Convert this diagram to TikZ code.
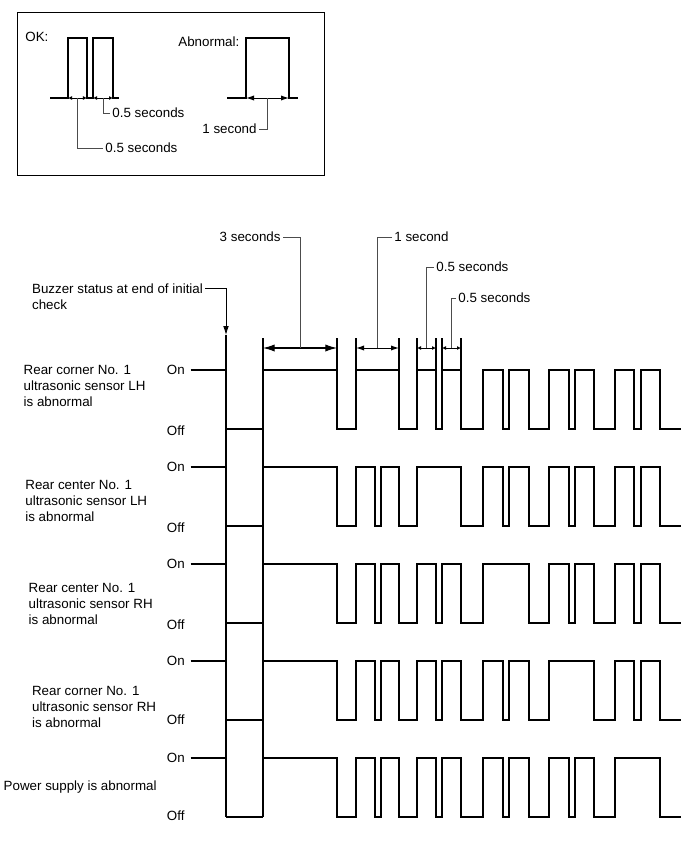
\documentclass[tikz,border=0pt]{standalone}
\usepackage{fontspec}
\setmainfont{Liberation Sans}
\usetikzlibrary{arrows.meta}
\tikzset{
    wave/.style={line width=0.8pt},
    leader/.style={line width=0.6pt,black!70},
    dimbig/.style={{Latex[length=2.9mm,width=1.8mm]}-{Latex[length=2.9mm,width=1.8mm]},line width=0.8pt},
    dimmid/.style={{Latex[length=2mm,width=1.3mm]}-{Latex[length=2mm,width=1.3mm]},line width=0.7pt},
    dimsmall/.style={{Latex[length=1mm,width=1mm]}-{Latex[length=1mm,width=1mm]},line width=0.6pt},
    txt/.style={font=\fontsize{9.5}{11.4}\selectfont,inner sep=1.5pt,align=left},
    levellbl/.style={txt,inner sep=4pt,anchor=west}
}

\begin{document}
\begin{tikzpicture}[x=0.025cm,y=-0.025cm]
    \useasboundingbox (0,0) rectangle (690,855);
    % legend box
    \draw[line width=0.6pt] (17,12) rectangle (324,175);
    \node[txt,anchor=west] (oklbl) at (23,37) {OK:};
    \node[txt,anchor=west] (ablbl) at (176,42) {Abnormal:};
    \draw[wave] (50,98) -| (68,38) -| (87,98) -| (93,38) -| (113,98) -- (119,98);
    \draw[dimsmall] (68,98) -- coordinate (okm1) (87,98);
    \draw[dimsmall] (93,98) -- coordinate (okm2) (113,98);
    \node[txt,anchor=west] (okhalfa) at (103,148) {0.5 seconds};
    \node[txt,anchor=west] (okhalfb) at (110,113) {0.5 seconds};
    \draw[leader] (okhalfa.west) -| (okm1);
    \draw[leader] (okhalfb.west) -| (okm2);
    \draw[wave] (227,98) -| (246,38) -| (289,98) -- (298,98);
    \draw[dimmid] (246,98) -- coordinate (abm) (289,98);
    \node[txt,anchor=east] (absec) at (259,129) {1 second};
    \draw[leader] (absec.east) -| (abm);

    % initial check
    \node[txt,anchor=north west] (buzz) at (29.7,281) {Buzzer status at end of initial\\check};
    \coordinate (chk) at (226,335);
    \coordinate (chkend) at (226,817);
    \coordinate (rel) at (263,338);
    \coordinate (relend) at (263,817);
    \draw[line width=0.6pt,-{Latex[length=2.2mm,width=1.4mm]}] ([yshift=-0.18cm]buzz.north east) -| (chk);
    \draw[wave] (chk) -- (chkend);
    \draw[wave] (rel) -- (relend);

    % timing marks
    \draw[wave] (337,338) -- (337,370);
    \draw[wave] (356,338) -- (356,370);
    \draw[wave] (399,338) -- (399,370);
    \draw[wave] (417,338) -- (417,370);
    \draw[wave] (436,338) -- (436,370);
    \draw[wave] (442,338) -- (442,370);
    \draw[wave] (461,338) -- (461,370);
    \draw[dimbig] (263,348) -- coordinate (m3s) (337,348);
    \draw[dimmid] (356,348) -- coordinate (m1s) (399,348);
    \draw[dimsmall] (417,348) -- coordinate (mh1) (436,348);
    \draw[dimsmall] (442,348) -- coordinate (mh2) (461,348);
    \node[txt,anchor=east] (sec3) at (283,237) {3 seconds};
    \node[txt,anchor=west] (sec1) at (392,237) {1 second};
    \node[txt,anchor=west] (half1) at (434,267) {0.5 seconds};
    \node[txt,anchor=west] (half2) at (456,298) {0.5 seconds};
    \draw[leader] (sec3.east) -| (m3s);
    \draw[leader] (sec1.west) -| (m1s);
    \draw[leader] (half1.west) -| (mh1);
    \draw[leader] (half2.west) -| (mh2);

    % rows
    \node[txt,anchor=west] (rowa) at (21.3,386) {Rear corner No. 1\\ultrasonic sensor LH\\is abnormal};
    \node[levellbl] (ona) at (161,370) {On};
    \node[levellbl] (offa) at (161,431) {Off};
    \draw[wave] (ona.east) -- (ona.east -| chk);
    \draw[wave] (226,429) -- (263,429);
    \draw[wave] (263,370) -| (337,429) -| (356,370) -| (399,429) -| (417,370) -| (436,429) -| (442,370) -| (461,429) -| (483,370) -| (503,429) -| (509,370) -| (529,429) -| (549,370) -| (569,429) -| (575,370) -| (594,429) -| (615,370) -| (634,429) -| (641,370) -| (660,429) -- (681,429);

    \node[txt,anchor=west] (rowb) at (23,501) {Rear center No. 1\\ultrasonic sensor LH\\is abnormal};
    \node[levellbl] (onb) at (161,467) {On};
    \node[levellbl] (offb) at (161,528) {Off};
    \draw[wave] (onb.east) -- (onb.east -| chk);
    \draw[wave] (226,526) -- (263,526);
    \draw[wave] (263,467) -| (337,526) -| (356,467) -| (375,526) -| (381,467) -| (399,526) -| (417,467) -| (461,526) -| (483,467) -| (503,526) -| (509,467) -| (529,526) -| (549,467) -| (569,526) -| (575,467) -| (594,526) -| (615,467) -| (634,526) -| (641,467) -| (660,526) -- (681,526);

    \node[txt,anchor=west] (rowc) at (26.3,604) {Rear center No. 1\\ultrasonic sensor RH\\is abnormal};
    \node[levellbl] (onc) at (161,564) {On};
    \node[levellbl] (offc) at (161,625) {Off};
    \draw[wave] (onc.east) -- (onc.east -| chk);
    \draw[wave] (226,623) -- (263,623);
    \draw[wave] (263,564) -| (337,623) -| (356,564) -| (375,623) -| (381,564) -| (399,623) -| (417,564) -| (436,623) -| (442,564) -| (461,623) -| (483,564) -| (529,623) -| (549,564) -| (569,623) -| (575,564) -| (594,623) -| (615,564) -| (634,623) -| (641,564) -| (660,623) -- (681,623);

    \node[txt,anchor=west] (rowd) at (29.7,707) {Rear corner No. 1\\ultrasonic sensor RH\\is abnormal};
    \node[levellbl] (ond) at (161,661) {On};
    \node[levellbl] (offd) at (161,720) {Off};
    \draw[wave] (ond.east) -- (ond.east -| chk);
    \draw[wave] (226,720) -- (263,720);
    \draw[wave] (263,661) -| (337,720) -| (356,661) -| (375,720) -| (381,661) -| (399,720) -| (417,661) -| (436,720) -| (442,661) -| (461,720) -| (483,661) -| (503,720) -| (509,661) -| (529,720) -| (549,661) -| (594,720) -| (615,661) -| (634,720) -| (641,661) -| (660,720) -- (681,720);

    \node[txt,anchor=west] (rowe) at (1.3,787) {Power supply is abnormal};
    \node[levellbl] (one) at (161,758) {On};
    \node[levellbl] (offe) at (161,816) {Off};
    \draw[wave] (one.east) -- (one.east -| chk);
    \draw[wave] (226,817) -- (263,817);
    \draw[wave] (263,758) -| (337,817) -| (356,758) -| (375,817) -| (381,758) -| (399,817) -| (417,758) -| (436,817) -| (442,758) -| (461,817) -| (483,758) -| (503,817) -| (509,758) -| (529,817) -| (549,758) -| (569,817) -| (575,758) -| (594,817) -| (615,758) -| (660,817) -- (681,817);
\end{tikzpicture}
\end{document}
